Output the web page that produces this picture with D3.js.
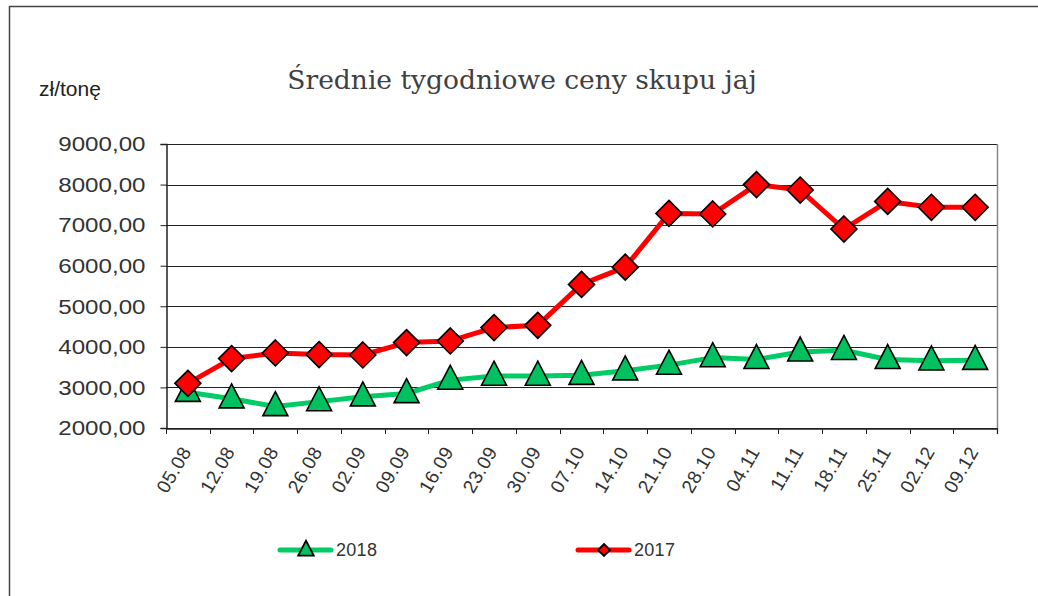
<!DOCTYPE html>
<html>
<head>
<meta charset="utf-8">
<script src="https://cdn.jsdelivr.net/npm/d3@7"></script>
<style>
  body { margin: 0; background: #fff; }
  svg { display: block; }
</style>
</head>
<body>
<div id="chart"></div>
<script>
// weekly dates (dd.mm)
const weeks = ['05.08', '12.08', '19.08', '26.08', '02.09', '09.09', '16.09', '23.09', '30.09', '07.10',
    '14.10', '21.10', '28.10', '04.11', '11.11', '18.11', '25.11', '02.12', '09.12'];
const prices2018 = [2880, 2720, 2530, 2650, 2770, 2850, 3180, 3280, 3280, 3300,
    3410, 3550, 3735, 3690, 3875, 3915, 3690, 3655, 3670];
const prices2017 = [3100, 3710, 3850, 3810, 3800, 4105, 4145, 4475, 4530, 5540,
    5965, 7290, 7275, 8000, 7865, 6905, 7585, 7440, 7440];
const yTicks = [2000, 3000, 4000, 5000, 6000, 7000, 8000, 9000];

const width = 1038;
const height = 596;
const plot = { left: 166, right: 997, top: 144, bottom: 428 };
const sansFont = 'Liberation Sans, Arial, sans-serif';

const svg = d3.select('#chart')
    .append('svg')
    .attr('width', width)
    .attr('height', height);

// outer frame (left + top only visible)
svg.append('path')
    .attr('d', `M9.5,${height}V6.5H${width}`)
    .attr('fill', 'none')
    .attr('stroke', '#444')
    .attr('stroke-width', 1.5);

const x = d3.scaleBand()
    .domain(weeks)
    .range([plot.left, plot.right]);

const y = d3.scaleLinear()
    .domain([2000, 9000])
    .range([plot.bottom, plot.top]);

// gridlines
svg.append('g')
    .selectAll('line')
    .data(yTicks)
    .enter()
    .append('line')
    .attr('x1', plot.left)
    .attr('x2', plot.right)
    .attr('y1', d => Math.round(y(d)) + 0.5)
    .attr('y2', d => Math.round(y(d)) + 0.5)
    .attr('stroke', '#222')
    .attr('stroke-width', 1);

// right border of plot
svg.append('line')
    .attr('x1', plot.right + 0.5)
    .attr('x2', plot.right + 0.5)
    .attr('y1', plot.top)
    .attr('y2', plot.bottom + 6)
    .attr('stroke', '#888')
    .attr('stroke-width', 1.5);

// y axis (labels slightly stretched horizontally like the original)
const yAxis = svg.append('g')
    .attr('transform', `translate(${plot.left + 0.5},0)`)
    .call(d3.axisLeft(y)
        .tickValues(yTicks)
        .tickSize(6)
        .tickPadding(0)
        .tickFormat(d => d3.format('.2f')(d).replace('.', ',')));
yAxis.select('.domain').attr('stroke', '#222').attr('stroke-width', 1.5);
yAxis.selectAll('.tick line').attr('stroke', '#222');
yAxis.selectAll('text')
    .attr('font-family', sansFont)
    .attr('font-size', 21)
    .attr('fill', '#333')
    .attr('x', -21 / 1.15)
    .attr('transform', 'scale(1.15,1)');

// x axis
const xAxis = svg.append('g')
    .attr('transform', `translate(0,${plot.bottom + 0.5})`)
    .call(d3.axisBottom(x).tickSize(0).tickPadding(0));
xAxis.select('.domain').attr('stroke', '#222').attr('stroke-width', 1.5);
xAxis.selectAll('text')
    .attr('font-family', sansFont)
    .attr('font-size', 19)
    .attr('letter-spacing', 0.4)
    .attr('fill', '#333')
    .attr('text-anchor', 'end')
    .attr('y', 0)
    .attr('dy', 0)
    .attr('transform', 'translate(4,23) rotate(-60)');

// x tick marks at band boundaries
svg.append('g')
    .selectAll('line')
    .data(weeks.concat(['end']))
    .enter()
    .append('line')
    .attr('x1', (d, i) => Math.round(plot.left + i * x.step()) + 0.5)
    .attr('x2', (d, i) => Math.round(plot.left + i * x.step()) + 0.5)
    .attr('y1', plot.bottom)
    .attr('y2', plot.bottom + 6)
    .attr('stroke', '#222');

const cx = d => x(d) + x.bandwidth() / 2;

const line = d3.line()
    .x(d => cx(d.week))
    .y(d => y(d.value));

const series = [
    { name: '2018', values: prices2018, color: '#00cc66', fill: '#00c060', marker: 'triangle' },
    { name: '2017', values: prices2017, color: '#ff0000', fill: '#ff0000', marker: 'diamond' }
];

const trianglePath = s => `M0,${-s * 0.62}L${s * 0.52},${s * 0.38}L${-s * 0.52},${s * 0.38}Z`;
const diamondPath = s => `M0,${-s}L${s},0L0,${s}L${-s},0Z`;

series.forEach(s => {
    const pts = weeks.map((w, i) => ({ week: w, value: s.values[i] }));
    svg.append('path')
        .datum(pts)
        .attr('fill', 'none')
        .attr('stroke', s.color)
        .attr('stroke-width', 5)
        .attr('stroke-linejoin', 'round')
        .attr('d', line);
});

// markers drawn after both lines
series.forEach(s => {
    svg.append('g')
        .selectAll('path')
        .data(weeks.map((w, i) => ({ week: w, value: s.values[i] })))
        .enter()
        .append('path')
        .attr('transform', d => `translate(${cx(d.week)},${y(d.value)})`)
        .attr('d', s.marker === 'triangle' ? trianglePath(24) : diamondPath(13))
        .attr('fill', s.fill)
        .attr('stroke', '#000')
        .attr('stroke-width', 1.6);
});

// title
svg.append('text')
    .attr('x', 522)
    .attr('y', 89)
    .attr('text-anchor', 'middle')
    .attr('font-family', 'DejaVu Serif, serif')
    .attr('font-size', 26.5)
    .attr('fill', '#404040')
    .text('Średnie tygodniowe ceny skupu jaj');

// unit label
svg.append('text')
    .attr('x', 39)
    .attr('y', 96)
    .attr('font-family', sansFont)
    .attr('font-size', 21)
    .attr('fill', '#222')
    .text('zł/tonę');

// legend
const legendItems = [
    { s: series[0], x: 278 },
    { s: series[1], x: 576 }
];
legendItems.forEach(item => {
    const g = svg.append('g').attr('transform', `translate(${item.x},550)`);
    g.append('line')
        .attr('x1', 2).attr('x2', 53)
        .attr('y1', 0).attr('y2', 0)
        .attr('stroke', item.s.color)
        .attr('stroke-width', 5)
        .attr('stroke-linecap', 'round');
    g.append('path')
        .attr('transform', 'translate(28,0)')
        .attr('d', item.s.marker === 'triangle' ? trianglePath(15) : diamondPath(6))
        .attr('fill', item.s.fill)
        .attr('stroke', '#000')
        .attr('stroke-width', 1.8);
    g.append('text')
        .attr('x', 58)
        .attr('y', 6)
        .attr('font-family', sansFont)
        .attr('font-size', 18)
        .attr('letter-spacing', 0.3)
        .attr('fill', '#333')
        .text(item.s.name);
});
</script>
</body>
</html>
